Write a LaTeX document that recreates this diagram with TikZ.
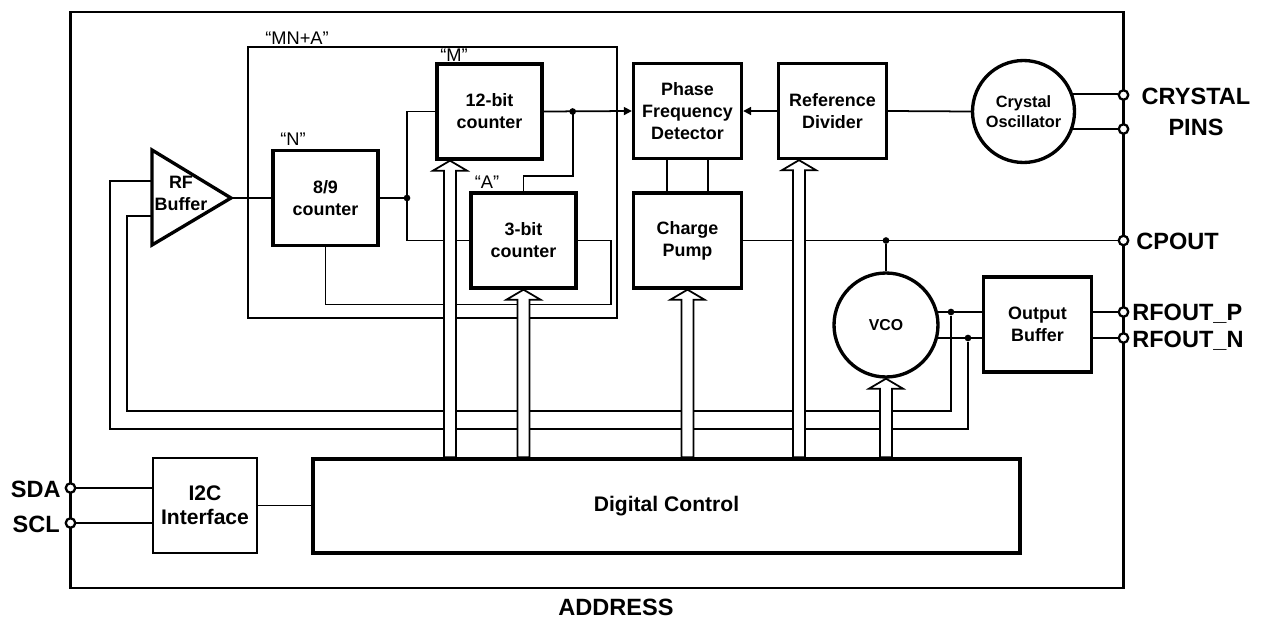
\documentclass[tikz,border=0pt]{standalone}
\usepackage{fontspec}
\setmainfont{Liberation Sans}
\usetikzlibrary{calc,arrows.meta}
\newcommand{\busarrow}[1]{%
  \draw[bus] (#1) -- ++(17,10) -- ++(-11,0) -- ($(#1 |- dctrl.north)+(6,0)$)
    -- ++(-12,0) -- ($(#1)+(-6,10)$) -- ++(-11,0) -- cycle;}
\tikzset{
  /tikz/.cd,
  blockfont/.style={font=\fontsize{10.2}{12.5}\selectfont\bfseries},
  block/.style={draw,line width=1.9pt,blockfont,align=center,inner sep=0pt,minimum width=2.16cm,minimum height=1.9cm}
}

\begin{document}
\begin{tikzpicture}[x=0.02cm,y=-0.02cm,
    wire/.style={line width=1pt},
    junction/.style={circle,fill,inner sep=0pt,minimum size=3.8pt},
    pad/.style={circle,draw,fill=white,line width=1.3pt,inner sep=0pt,minimum size=5.4pt},
    bus/.style={draw,fill=white,line width=1pt,line join=miter},
    qlabel/.style={font=\fontsize{10.4}{12}\selectfont,inner sep=0pt},
    padlabel/.style={font=\fontsize{13.4}{17.6}\selectfont\bfseries,inner sep=0pt,align=center}]
  \useasboundingbox (0,0) rectangle (1269,619);

  \draw[line width=1.7pt] (70.5,12) rectangle (1123.5,588);
  \draw[line width=0.7pt] (248,47) rectangle (617,318);
  \node[qlabel] (mnalab) at (297,38) {“MN+A”};

  \coordinate (rftop) at (152,150);
  \coordinate (rfout) at (231,198);
  \coordinate (rfbot) at (152,245);
  \coordinate (rfin1) at (152,181);
  \coordinate (rfin2) at (152,216);
  \draw[line width=1.9pt,line join=miter] (rftop) -- (rfout) -- (rfbot) -- cycle;
  \node[blockfont,align=center,inner sep=0pt] (rftxt) at (181,193) {RF\\Buffer};

  \node[block,minimum width=2.1cm] (n89) at (325.5,198) {8/9\\counter};
  \node[block,minimum width=2.1cm] (c12) at (489.5,111.5) {12-bit\\counter};
  \node[block,minimum width=2.1cm] (c3) at (523.5,240.5) {3-bit\\counter};
  \node[qlabel] (nlab) at (293,139) {“N”};
  \node[qlabel] (mlab) at (454,55) {“M”};
  \node[qlabel] (alab) at (487,182) {“A”};

  \node[block] (pfd) at (687.5,111) {Phase\\Frequency\\Detector};
  \node[block] (refdiv) at (832.5,111) {Reference\\Divider};
  \node[block] (cp) at (687.5,240.5) {Charge\\Pump};
  \node[block] (obuf) at (1037.5,324.5) {Output\\Buffer};
  \node[block,circle,minimum size=2.04cm,font=\fontsize{9.3}{11.3}\selectfont\bfseries] (xtal) at (1023.5,111.5) {Crystal\\Oscillator};
  \node[block,circle,minimum size=2.08cm,font=\fontsize{9}{11}\selectfont\bfseries] (vco) at (886,325) {VCO};
  \node[block,line width=0.8pt,minimum width=2.08cm,font=\fontsize{12}{13.8}\selectfont\bfseries] (i2c) at (205,505.5) {I2C\\Interface};
  \node[block,minimum width=14.14cm,minimum height=1.88cm,font=\fontsize{12}{13.8}\selectfont\bfseries] (dctrl) at (666.5,506) {Digital Control};

  \node[pad] (xp1) at (1123.5,95) {};
  \node[pad] (xp2) at (1123.5,129) {};
  \node[pad] (cpo) at (1123.5,240.5) {};
  \node[pad] (rfp) at (1123.5,312) {};
  \node[pad] (rfn) at (1123.5,338) {};
  \node[pad] (sda) at (70.5,488) {};
  \node[pad] (scl) at (70.5,523) {};

  \node[padlabel,anchor=east] (sdalab) at (61,489) {SDA};
  \node[padlabel,anchor=east] (scllab) at (60,524.5) {SCL};
  \node[padlabel] (xtallab) at (1196,111.5) {CRYSTAL\\PINS};
  \node[padlabel,anchor=west] (cplab) at (1136,241) {CPOUT};
  \node[padlabel,anchor=base west] (rfplab) at (1132,320.5) {RFOUT\_P};
  \node[padlabel,anchor=base west] (rfnlab) at (1132,347) {RFOUT\_N};
  \node[padlabel] (addrlab) at (616,607) {ADDRESS};

  \draw[wire] (rfout) -- (n89.west);
  \coordinate (sp1) at (407,198);
  \draw[wire] (n89.east) -- (sp1);
  \draw[wire] (sp1) |- (c12.west);
  \draw[wire] (sp1) |- (c3.west);
  \node[junction] (j1) at (sp1) {};
  \coordinate (sp2) at ($(c12.east)+(29,0)$);
  \draw[wire,-{Triangle[length=4.5pt,width=4.5pt]}] (c12.east) -- (pfd.west);
  \draw[wire] (sp2) -- ++(0,64.5) -| (c3.north);
  \node[junction] (j2) at (sp2) {};
  \draw[wire] (c3.east) -- ++(33,0) -- ++(0,64) -| (n89.south);

  \draw[wire,-{Triangle[length=4.5pt,width=4.5pt]}] (refdiv.west) -- (pfd.east);
  \draw[wire] (xtal.west) -- (refdiv.east);
  \draw[wire] (xtal.19) -- (xtal.19 -| xp1.west);
  \draw[wire] (xtal.-19) -- (xtal.-19 -| xp2.west);
  \draw[wire] ($(pfd.south)+(-20.5,0)$) -- ($(cp.north)+(-20.5,0)$);
  \draw[wire] ($(pfd.south)+(20.5,0)$) -- ($(cp.north)+(20.5,0)$);

  \draw[wire] (cp.east) -- (cpo.west);
  \node[junction] (j3) at (vco.north |- cp.east) {};
  \draw[wire] (j3) -- (vco.north);
  \draw[wire] (vco.14) -- (vco.14 -| obuf.west);
  \draw[wire] (vco.-14) -- (vco.-14 -| obuf.west);
  \draw[wire] (obuf.east |- rfp) -- (rfp.west);
  \draw[wire] (obuf.east |- rfn) -- (rfn.west);
  \node[junction] (j4) at (951,312) {};
  \node[junction] (j5) at (968,338) {};
  \draw[wire] (j4) |- (127,411) |- (rfin2);
  \draw[wire] (j5) |- (110,429) |- (rfin1);

  \draw[wire] (sda.east) -- (sda -| i2c.west);
  \draw[wire] (scl.east) -- (scl -| i2c.west);
  \draw[wire] (i2c.east) -- (i2c.east -| dctrl.west);

  \coordinate (b12) at ($(c12.south)+(-39.5,0)$);
  \coordinate (bref) at ($(refdiv.south)+(-33.5,0)$);
  \busarrow{b12}
  \busarrow{c3.south}
  \busarrow{cp.south}
  \busarrow{bref}
  \busarrow{vco.south}
\end{tikzpicture}
\end{document}
